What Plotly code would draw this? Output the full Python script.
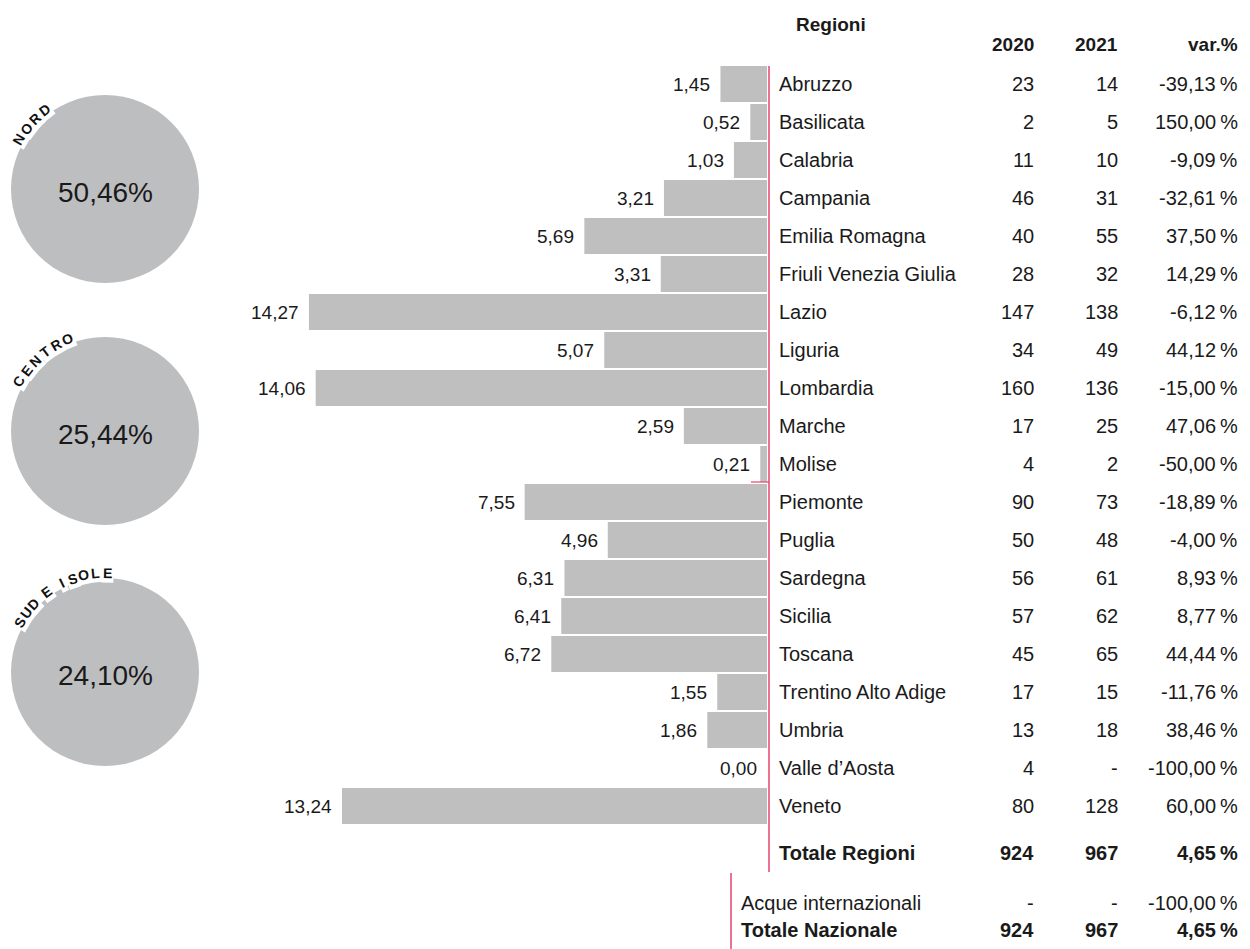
import math
import plotly.graph_objects as go

# ---- data ----
regioni = ["Abruzzo", "Basilicata", "Calabria", "Campania", "Emilia Romagna",
           "Friuli Venezia Giulia", "Lazio", "Liguria", "Lombardia", "Marche",
           "Molise", "Piemonte", "Puglia", "Sardegna", "Sicilia", "Toscana",
           "Trentino Alto Adige", "Umbria", "Valle d’Aosta", "Veneto"]
incidenza = [1.45, 0.52, 1.03, 3.21, 5.69, 3.31, 14.27, 5.07, 14.06, 2.59,
             0.21, 7.55, 4.96, 6.31, 6.41, 6.72, 1.55, 1.86, 0.00, 13.24]
anno_2020 = [23, 2, 11, 46, 40, 28, 147, 34, 160, 17,
             4, 90, 50, 56, 57, 45, 17, 13, 4, 80]
anno_2021 = [14, 5, 10, 31, 55, 32, 138, 49, 136, 25,
             2, 73, 48, 61, 62, 65, 15, 18, None, 128]
var_pct = [-39.13, 150.00, -9.09, -32.61, 37.50, 14.29, -6.12, 44.12, -15.00, 47.06,
           -50.00, -18.89, -4.00, 8.93, 8.77, 44.44, -11.76, 38.46, -100.00, 60.00]

totali_nomi = ["Totale Regioni", "Acque internazionali", "Totale Nazionale"]
totali_2020 = [924, None, 924]
totali_2021 = [967, None, 967]
totali_var = [4.65, -100.00, 4.65]

aree = ["NORD", "CENTRO", "SUD E ISOLE"]
quote_aree = [50.46, 25.44, 24.10]

# ---- page geometry (page pixels; the html body adds an 8px margin) ----
OFF = 8
W, H = 1250 - OFF, 949 - OFF
FONT = "Liberation Sans, Arial, sans-serif"
GREY = "#bfbfbf"
RED = "#e5436b"
TXT = "#1a1a1a"
ZERO_X = 767        # bar baseline on the page
PX_PER_UNIT = 32.1
ROW0, ROW_STEP = 84, 38


def px(x):
    return (x - OFF) / W


def py(y):
    return 1 - (y - OFF) / H


def num(v):
    return "-" if v is None else str(v)


def pct(v):
    return f"{v:.2f}".replace(".", ",") + "\u2009%"


fig = go.Figure()

fig.add_trace(go.Bar(
    x=incidenza,
    y=regioni,
    orientation="h",
    width=36 / ROW_STEP,
    marker=dict(color=GREY, line=dict(width=0)),
    hoverinfo="skip",
    showlegend=False,
))

annotations = []

# bar value labels
for reg, val in zip(regioni, incidenza):
    annotations.append(dict(
        x=val, y=reg, xref="x", yref="y", xanchor="right", yanchor="middle",
        xshift=-8, text=f"{val:.2f}".replace(".", ","), showarrow=False,
        font=dict(size=19, color=TXT),
    ))

# table rows
for reg, a, b, v in zip(regioni, anno_2020, anno_2021, var_pct):
    for xx, anchor, txt in [(777, "left", reg), (1036, "right", num(a)),
                            (1120, "right", num(b)), (1240, "right", pct(v))]:
        annotations.append(dict(
            x=px(xx), y=reg, xref="paper", yref="y", xanchor=anchor,
            yanchor="middle", text=txt, showarrow=False,
            font=dict(size=20, color=TXT),
        ))

# totals
tot_y = [853, 903, 930]
tot_x = [777, 739, 739]
tot_bold = [True, False, True]
for nome, a, b, v, yy, x0, bold in zip(totali_nomi, totali_2020, totali_2021,
                                       totali_var, tot_y, tot_x, tot_bold):
    for xx, anchor, txt in [(x0, "left", nome), (1036, "right", num(a)),
                            (1120, "right", num(b)), (1240, "right", pct(v))]:
        annotations.append(dict(
            x=px(xx), y=py(yy), xref="paper", yref="paper", xanchor=anchor,
            yanchor="middle", text=f"<b>{txt}</b>" if bold else txt,
            showarrow=False, font=dict(size=20, color=TXT),
        ))

# headers
for xx, yy, anchor, txt in [(831, 25, "center", "Regioni"), (1036, 45, "right", "2020"),
                            (1120, 45, "right", "2021"), (1240, 45, "right", "var.%")]:
    annotations.append(dict(
        x=px(xx), y=py(yy), xref="paper", yref="paper", xanchor=anchor,
        yanchor="middle", text=f"<b>{txt}</b>", showarrow=False,
        font=dict(size=19, color=TXT),
    ))

shapes = []

# circles with area shares, names curved along the upper-left edge
circle_cy = [189, 431, 672]
letter_step = [7.5, 7.6, 6.8]
R, CX = 94, 105
for nome, quota, cy, step in zip(aree, quote_aree, circle_cy, letter_step):
    shapes.append(dict(
        type="circle", xref="paper", yref="paper",
        x0=px(CX - R), x1=px(CX + R), y0=py(cy + R), y1=py(cy - R),
        fillcolor="#bdbec0", line=dict(width=0), layer="below",
    ))
    annotations.append(dict(
        x=px(CX), y=py(cy + 3), xref="paper", yref="paper",
        xanchor="center", yanchor="middle",
        text=f"{quota:.2f}".replace(".", ",") + "%", showarrow=False,
        font=dict(size=28, color=TXT),
    ))
    th = 150 + step
    for ch in nome:
        if ch == " ":
            th -= step / 2
            continue
        th -= step
        r_txt = R + 5
        annotations.append(dict(
            x=px(CX + r_txt * math.cos(math.radians(th))),
            y=py(cy - r_txt * math.sin(math.radians(th))),
            xref="paper", yref="paper", xanchor="center", yanchor="middle",
            text=f"<b>{ch}</b>", textangle=90 - th,
            showarrow=False, bgcolor="white", borderpad=1,
            font=dict(size=14, color="#111111"),
        ))

# red separator lines
shapes.append(dict(type="line", xref="paper", yref="paper",
                   x0=px(769), x1=px(769), y0=py(66), y1=py(872),
                   line=dict(color=RED, width=1.5)))
shapes.append(dict(type="line", xref="paper", yref="paper",
                   x0=px(731), x1=px(731), y0=py(873), y1=py(952),
                   line=dict(color=RED, width=1.5)))
shapes.append(dict(type="line", xref="paper", yref="paper",
                   x0=px(751), x1=px(769), y0=py(482), y1=py(482),
                   line=dict(color=RED, width=1.2)))

# bar axis: zero sits at ZERO_X, PX_PER_UNIT pixels per percentage point
x_span = (ZERO_X - OFF) / PX_PER_UNIT

fig.update_layout(
    width=W,
    height=H,
    margin=dict(l=0, r=0, t=0, b=0),
    paper_bgcolor="white",
    plot_bgcolor="white",
    font=dict(family=FONT, size=20, color=TXT),
    xaxis=dict(domain=[0, px(ZERO_X)], range=[x_span, 0],
               visible=False, fixedrange=True),
    yaxis=dict(domain=[0, 1], type="category", categoryorder="array",
               categoryarray=regioni,
               range=[(H + OFF - ROW0) / ROW_STEP, -(ROW0 - OFF) / ROW_STEP],
               visible=False, fixedrange=True),
    annotations=annotations,
    shapes=shapes,
    showlegend=False,
)

fig.write_html("out.html")
